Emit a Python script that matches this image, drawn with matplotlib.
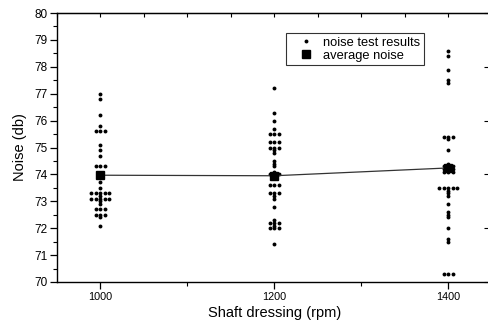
import matplotlib.pyplot as plt
import numpy as np
from matplotlib.ticker import MultipleLocator

plt.rcParams['font.family'] = ['Liberation Sans', 'DejaVu Sans']

# shaft dressing speeds (rpm)
speeds = [1000, 1200, 1400]

# individual noise readings (db), repeats = side-by-side dots
noise_1000 = [77.0, 76.8, 76.2, 75.8, 75.6, 75.6, 75.6, 75.1, 74.9, 74.7,
              74.3, 74.3, 74.3, 73.7, 73.5, 73.3, 73.3, 73.3, 73.3, 73.3,
              73.2, 73.1, 73.1, 73.1, 73.1, 73.1, 73.0, 72.9, 72.7, 72.7,
              72.7, 72.5, 72.5, 72.5, 72.4, 72.1]
noise_1200 = [77.2, 76.3, 76.0, 75.7, 75.5, 75.5, 75.5, 75.2, 75.2, 75.2,
              75.0, 75.0, 75.0, 74.9, 74.8, 74.5, 74.4, 74.3, 74.1, 74.0,
              74.0, 74.0, 73.9, 73.6, 73.6, 73.6, 73.3, 73.3, 73.3, 73.2,
              73.1, 72.8, 72.3, 72.2, 72.2, 72.2, 72.1, 72.0, 72.0, 72.0,
              71.4]
noise_1400 = [78.6, 78.4, 77.9, 77.5, 77.4, 75.4, 75.4, 75.4, 75.3, 74.9,
              74.4, 74.3, 74.3, 74.3, 74.2, 74.2, 74.2, 74.1, 74.1, 74.1,
              73.5, 73.5, 73.5, 73.5, 73.5, 73.4, 73.3, 73.2, 72.9, 72.6,
              72.5, 72.4, 72.0, 71.6, 71.5, 70.3, 70.3, 70.3]

# average noise per speed
avg_noise = [73.97, 73.95, 74.24]

DOT_STEP = 5.2  # rpm between side-by-side repeated readings


def spread(speed, values):
    # place repeated values next to each other: 0, -1, +1, -2, +2 ... steps
    xs, ys = [], []
    vals, counts = np.unique(np.round(values, 1), return_counts=True)
    for v, n in zip(vals, counts):
        order = [0]
        for k in range(1, n):
            order.append(-((k + 1) // 2) if k % 2 else (k // 2))
        for o in order:
            xs.append(speed + o * DOT_STEP)
            ys.append(v)
    return xs, ys


fig = plt.figure(figsize=(4.88, 3.26), dpi=100)
ax = fig.add_axes([0.1168, 0.135, 0.8904, 0.825])

first = True
for spd, vals in zip(speeds, [noise_1000, noise_1200, noise_1400]):
    xs, ys = spread(spd, vals)
    ax.plot(xs, ys, 'o', ls='none', color='black', ms=2.8, mew=0,
            label='noise test results' if first else None, zorder=2)
    first = False

ax.plot(speeds, avg_noise, '-', color='#333333', lw=0.9, zorder=3)
ax.plot(speeds, avg_noise, 's', ls='none', color='black', ms=6,
        label='average noise', zorder=4)

ax.set_xlim(950, 1450)
ax.set_ylim(70, 80)
ax.xaxis.set_major_locator(MultipleLocator(200))
ax.xaxis.set_minor_locator(MultipleLocator(100))
ax.yaxis.set_major_locator(MultipleLocator(1))
ax.yaxis.set_minor_locator(MultipleLocator(0.5))
ax.tick_params(which='major', direction='out', length=5, width=0.9, pad=2)
ax.tick_params(which='minor', direction='out', length=3, width=0.8)
ax.tick_params(axis='x', labelsize=7.8)
ax.tick_params(axis='y', labelsize=8.5)

top = ax.secondary_xaxis('top')
top.xaxis.set_major_locator(MultipleLocator(50))
top.tick_params(direction='in', length=3, width=0.8, labeltop=False)
right = ax.secondary_yaxis('right')
right.yaxis.set_major_locator(MultipleLocator(2))
right.yaxis.set_minor_locator(MultipleLocator(1))
right.tick_params(which='major', direction='in', length=6, width=0.8, labelright=False)
right.tick_params(which='minor', direction='in', length=3, width=0.8)

for sp in ax.spines.values():
    sp.set_linewidth(1.0)

ax.set_xlabel('Shaft dressing (rpm)', fontsize=10.5, labelpad=3)
ax.set_ylabel('Noise (db)', fontsize=10.5, labelpad=5)

leg = ax.legend(loc='upper left', bbox_to_anchor=(0.527, 0.926),
                borderaxespad=0, fontsize=9.3, numpoints=1, frameon=True,
                fancybox=False, edgecolor='black', borderpad=0.3,
                handlelength=2.5, handletextpad=0.1, labelspacing=0.05)
leg.get_frame().set_linewidth(0.8)

fig.savefig('out.png', dpi=100)
